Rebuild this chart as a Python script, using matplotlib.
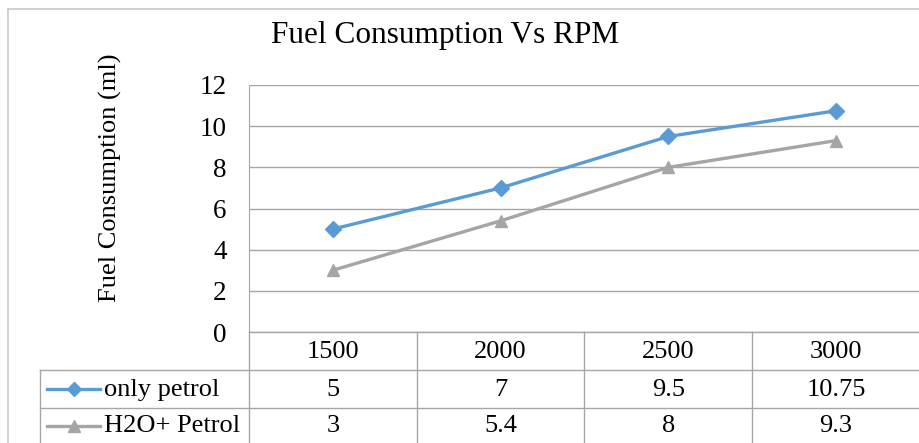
import matplotlib
matplotlib.use("Agg")
import matplotlib.pyplot as plt
from matplotlib.lines import Line2D

plt.rcParams["font.family"] = ["Liberation Serif", "DejaVu Serif"]

rpm = ["1500", "2000", "2500", "3000"]
only_petrol = [5, 7, 9.5, 10.75]
h2o_petrol = [3, 5.4, 8, 9.3]
only_petrol_txt = ["5", "7", "9.5", "10.75"]
h2o_petrol_txt = ["3", "5.4", "8", "9.3"]
series_names = ["only petrol", "H2O+ Petrol"]

BLUE = "#5B9BD5"
GRAY = "#A5A5A5"
GRID = "#A6A6A6"
FS = 19

W, H = 920, 443
fig = plt.figure(figsize=(W / 100, H / 100), dpi=100)


def fx(px):
    return px / W


def fy(py):
    return 1 - py / H


# plot area in pixel coords
left, right, top, bottom = 249, 920, 85, 332
ax = fig.add_axes([fx(left), fy(bottom), fx(right - left), fy(top) - fy(bottom)])
x = range(len(rpm))
ax.plot(x, only_petrol, color=BLUE, lw=2.4, marker="D", ms=8, zorder=3,
        clip_on=False)
ax.plot(x, h2o_petrol, color=GRAY, lw=2.4, marker="^", ms=9, zorder=3,
        clip_on=False)
ax.set_xlim(-0.5, len(rpm) - 0.5)
ax.set_ylim(0, 12)
ax.set_yticks(range(0, 13, 2))
ax.set_xticks([])
ax.yaxis.grid(True, color=GRID, lw=1)
ax.set_axisbelow(True)
for s in ["top", "right", "bottom"]:
    ax.spines[s].set_visible(False)
ax.spines["left"].set_color(GRID)
ax.tick_params(axis="y", length=0, labelsize=19.5, pad=16)

fig.text(fx(110), fy(178), "Fuel Consumption (ml)", fontsize=19,
         rotation=90, ha="center", va="center")
fig.text(fx(445), fy(35), "Fuel Consumption Vs RPM", fontsize=22.5,
         ha="center", va="center")

# data table
row_y = [332, 370, 408, 443]
col_x = [left + i * (right - left) / len(rpm) for i in range(len(rpm) + 1)]
tbl_left = 40
lk = dict(color=GRID, lw=1, transform=fig.transFigure)
fig.add_artist(Line2D([fx(left), fx(right)], [fy(row_y[0])] * 2, **lk))
for yy in row_y[1:3]:
    fig.add_artist(Line2D([fx(tbl_left), fx(right)], [fy(yy)] * 2, **lk))
fig.add_artist(Line2D([fx(tbl_left)] * 2, [fy(row_y[1]), 0], **lk))
for cx in col_x:
    fig.add_artist(Line2D([fx(cx)] * 2, [fy(row_y[0]), 0], **lk))
# outer chart border
bk = dict(color="#C8C8C8", lw=1.2, transform=fig.transFigure)
fig.add_artist(Line2D([fx(8)] * 2, [fy(9), 0], **bk))
fig.add_artist(Line2D([fx(8), 1], [fy(9)] * 2, **bk))

rows = [rpm, only_petrol_txt, h2o_petrol_txt]
for r, vals in enumerate(rows):
    yc = fy((row_y[r] + row_y[r + 1]) / 2 + 1)
    for c, v in enumerate(vals):
        xc = fx((col_x[c] + col_x[c + 1]) / 2)
        fig.text(xc, yc, v, fontsize=FS, ha="center", va="center")

# legend keys in table
for i, (name, col, mk, ms) in enumerate(zip(series_names, [BLUE, GRAY],
                                            ["D", "^"], [7, 9])):
    yc = fy((row_y[i + 1] + row_y[i + 2]) / 2)
    fig.add_artist(Line2D([fx(47), fx(100)], [yc, yc], color=col, lw=2.4,
                          transform=fig.transFigure))
    fig.add_artist(Line2D([fx(74)], [yc], color=col, marker=mk, ms=ms,
                          transform=fig.transFigure))
    fig.text(fx(104), fy((row_y[i + 1] + row_y[i + 2]) / 2 + 1), name,
             fontsize=FS, ha="left", va="center")

fig.savefig("out.png", dpi=100)
